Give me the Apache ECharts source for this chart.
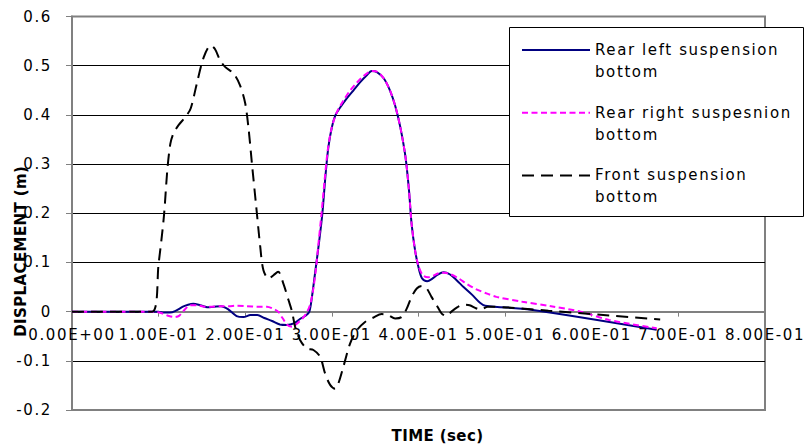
<!DOCTYPE html>
<html><head><meta charset="utf-8">
<script src="https://cdn.jsdelivr.net/npm/echarts@6/dist/echarts.min.js"></script>
<style>
html,body{margin:0;padding:0;background:#fff;}
#chart{width:805px;height:447px;}
#chart text{letter-spacing:1.6px;}
#chart text[style*="bold"]{letter-spacing:0.4px;}
</style></head><body><div id="chart"></div>
<script>
// ---- data (time in s, displacement in m) ----
const seriesNames = ['Rear left suspension\nbottom', 'Rear right suspesnion\nbottom', 'Front suspension\nbottom'];
const xTickLabels = ['0.00E+00','1.00E-01','2.00E-01','3.00E-01','4.00E-01','5.00E-01','6.00E-01','7.00E-01','8.00E-01'];
const yTickLabels = ['-0.2','-0.1','0','0.1','0.2','0.3','0.4','0.5','0.6'];

const tRearLeft = [0,0.09,0.1,0.106,0.113,0.12,0.128,0.134,0.14,0.148,0.156,0.164,0.172,0.18,0.19,0.198,0.206,0.214,0.222,0.231,0.24,0.248,0.256,0.264,0.27,0.274,0.277,0.281,0.285,0.289,0.2925,0.296,0.3,0.304,0.31,0.317,0.325,0.333,0.34,0.346,0.352,0.36,0.367,0.373,0.379,0.385,0.389,0.392,0.396,0.4,0.404,0.41,0.416,0.422,0.429,0.436,0.444,0.452,0.462,0.471,0.477,0.53,0.675];
const vRearLeft = [0,0,0,-0.002,-0.002,0.002,0.01,0.014,0.016,0.013,0.009,0.01,0.011,0.005,-0.009,-0.011,-0.007,-0.007,-0.013,-0.019,-0.026,-0.027,-0.024,-0.014,-0.008,0.0,0.03,0.084,0.138,0.199,0.274,0.335,0.375,0.399,0.416,0.433,0.45,0.467,0.48,0.489,0.487,0.474,0.45,0.419,0.375,0.314,0.247,0.179,0.125,0.09,0.068,0.062,0.067,0.075,0.08,0.076,0.064,0.05,0.034,0.018,0.012,0.004,-0.037];

const tRearRight = [0,0.095,0.105,0.112,0.118,0.124,0.13,0.137,0.145,0.153,0.162,0.172,0.181,0.19,0.202,0.214,0.225,0.232,0.238,0.243,0.248,0.254,0.26,0.266,0.271,0.275,0.278,0.2815,0.2845,0.288,0.2915,0.295,0.299,0.303,0.307,0.313,0.32,0.327,0.334,0.341,0.347,0.353,0.36,0.367,0.373,0.379,0.385,0.389,0.392,0.396,0.4,0.405,0.411,0.417,0.423,0.43,0.437,0.446,0.456,0.466,0.48,0.49,0.52,0.553,0.587,0.62,0.675];
const vRearRight = [0,0,-0.004,-0.009,-0.011,-0.008,0.004,0.013,0.013,0.01,0.01,0.011,0.011,0.012,0.011,0.01,0.01,0.006,0.0,-0.013,-0.026,-0.031,-0.024,-0.014,-0.002,0.015,0.04,0.085,0.138,0.199,0.265,0.325,0.368,0.393,0.41,0.428,0.447,0.462,0.475,0.485,0.489,0.487,0.474,0.45,0.419,0.375,0.314,0.247,0.179,0.125,0.093,0.074,0.07,0.073,0.078,0.079,0.076,0.068,0.056,0.046,0.036,0.03,0.02,0.011,0.0,-0.017,-0.034];

const tFront = [0,0.0925,0.1,0.106,0.11,0.1135,0.117,0.123,0.131,0.137,0.144,0.152,0.16,0.165,0.171,0.177,0.1865,0.194,0.2,0.204,0.2077,0.2127,0.2173,0.221,0.227,0.2326,0.238,0.244,0.25,0.254,0.2576,0.2634,0.2711,0.2787,0.2865,0.2922,0.298,0.3037,0.3075,0.3133,0.321,0.3288,0.3383,0.348,0.3576,0.365,0.373,0.3806,0.3864,0.392,0.398,0.4037,0.4095,0.415,0.421,0.4268,0.4325,0.438,0.445,0.452,0.459,0.466,0.472,0.48,0.55,0.62,0.679];
const vFront = [0,0,0.098,0.192,0.287,0.341,0.362,0.379,0.396,0.413,0.463,0.517,0.541,0.534,0.511,0.497,0.484,0.46,0.423,0.369,0.301,0.213,0.132,0.084,0.067,0.074,0.081,0.057,0.023,0,-0.031,-0.058,-0.075,-0.078,-0.092,-0.126,-0.149,-0.157,-0.146,-0.112,-0.065,-0.038,-0.021,-0.012,-0.005,-0.007,-0.014,-0.011,0.006,0.03,0.047,0.052,0.047,0.03,0.013,-0.004,-0.009,0,0.009,0.014,0.013,0.007,0.004,0.01,0.002,-0.008,-0.016];

const pairs = (t, v) => t.map((x, i) => [x, v[i]]);
const FONT = 'DejaVu Sans';
const X_MIN = 0, X_MAX = 0.8, Y_MIN = -0.2, Y_MAX = 0.6, STEP = 0.1;
const GRID_TOP = 16.5, GRID_BOTTOM = 37, CHART_H = 447;
// the x axis crosses the y axis at 0 (moved there with an offset, since onZero is not applied here)
const zeroOffset = -(CHART_H - GRID_TOP - GRID_BOTTOM) * (0 - Y_MIN) / (Y_MAX - Y_MIN);

const chart = echarts.init(document.getElementById('chart'), null, {renderer: 'svg'});
chart.setOption({
  backgroundColor: '#fff',
  animation: false,
  grid: {left: 72, right: 40, top: GRID_TOP, bottom: GRID_BOTTOM, containLabel: false, outerBoundsMode: 'none', show: true,
         borderColor: '#808080', borderWidth: 2, backgroundColor: 'transparent'},
  xAxis: {
    type: 'value', min: X_MIN, max: X_MAX, interval: STEP, offset: zeroOffset,
    axisLine: {onZero: false, lineStyle: {color: '#808080', width: 2}},
    axisTick: {show: true, length: 5, lineStyle: {color: '#808080', width: 1}},
    axisLabel: {margin: 16, fontSize: 15, fontFamily: FONT, color: '#000',
      showMinLabel: true, showMaxLabel: true, hideOverlap: false,
      formatter: v => xTickLabels[Math.round((v - X_MIN) / STEP)]},
    splitLine: {show: false},
    name: 'TIME (sec)', nameLocation: 'middle', nameGap: 117, nameMoveOverlap: false,
    nameTextStyle: {fontFamily: FONT, fontWeight: 'bold', fontSize: 15, color: '#000', padding: [0, 0, 0, 38]}
  },
  yAxis: {
    type: 'value', min: Y_MIN, max: Y_MAX, interval: STEP,
    axisLine: {show: true, onZero: false, lineStyle: {color: '#808080', width: 2}},
    axisTick: {show: true, length: 6, lineStyle: {color: '#808080', width: 1}},
    axisLabel: {margin: 20, fontSize: 15, fontFamily: FONT, color: '#000',
      showMinLabel: true, showMaxLabel: true,
      formatter: v => yTickLabels[Math.round((v - Y_MIN) / STEP)]},
    splitLine: {show: true, showMinLine: false, showMaxLine: false, lineStyle: {color: '#000', width: 1}},
    name: 'DISPLACEMENT (m)', nameLocation: 'middle', nameGap: 44, nameRotate: 90, nameMoveOverlap: false,
    nameTextStyle: {fontFamily: FONT, fontWeight: 'bold', fontSize: 15, color: '#000', padding: [0, 76, 0, 0]}
  },
  graphic: [{type: 'rect', z: 3, silent: true,
    shape: {x: 509.5, y: 27.5, width: 294, height: 189},
    style: {fill: '#fff', stroke: '#000', lineWidth: 1}}],
  legend: {
    orient: 'vertical', left: 521, top: 17, padding: 0, itemGap: -3.3,
    itemWidth: 68, itemHeight: 14, z: 10, selectedMode: false,
    itemStyle: {color: 'transparent', borderColor: 'transparent', borderWidth: 0, opacity: 0},
    formatter: name => '\n' + name,
    textStyle: {fontFamily: FONT, fontSize: 15, color: '#000', lineHeight: 22},
    data: seriesNames
  },
  series: [
    {name: seriesNames[0], type: 'line', symbol: 'none', smooth: 0.3, z: 2,
     lineStyle: {color: '#000080', width: 2}, itemStyle: {color: '#000080'},
     data: pairs(tRearLeft, vRearLeft)},
    {name: seriesNames[1], type: 'line', symbol: 'none', smooth: 0.3, z: 3,
     lineStyle: {color: '#FF00FF', width: 2, type: [6, 3.5]}, itemStyle: {color: '#FF00FF'},
     data: pairs(tRearRight, vRearRight)},
    {name: seriesNames[2], type: 'line', symbol: 'none', smooth: 0.3, z: 4,
     lineStyle: {color: '#000', width: 2, type: [12, 7]}, itemStyle: {color: '#000'},
     data: pairs(tFront, vFront)}
  ]
});
</script></body></html>
